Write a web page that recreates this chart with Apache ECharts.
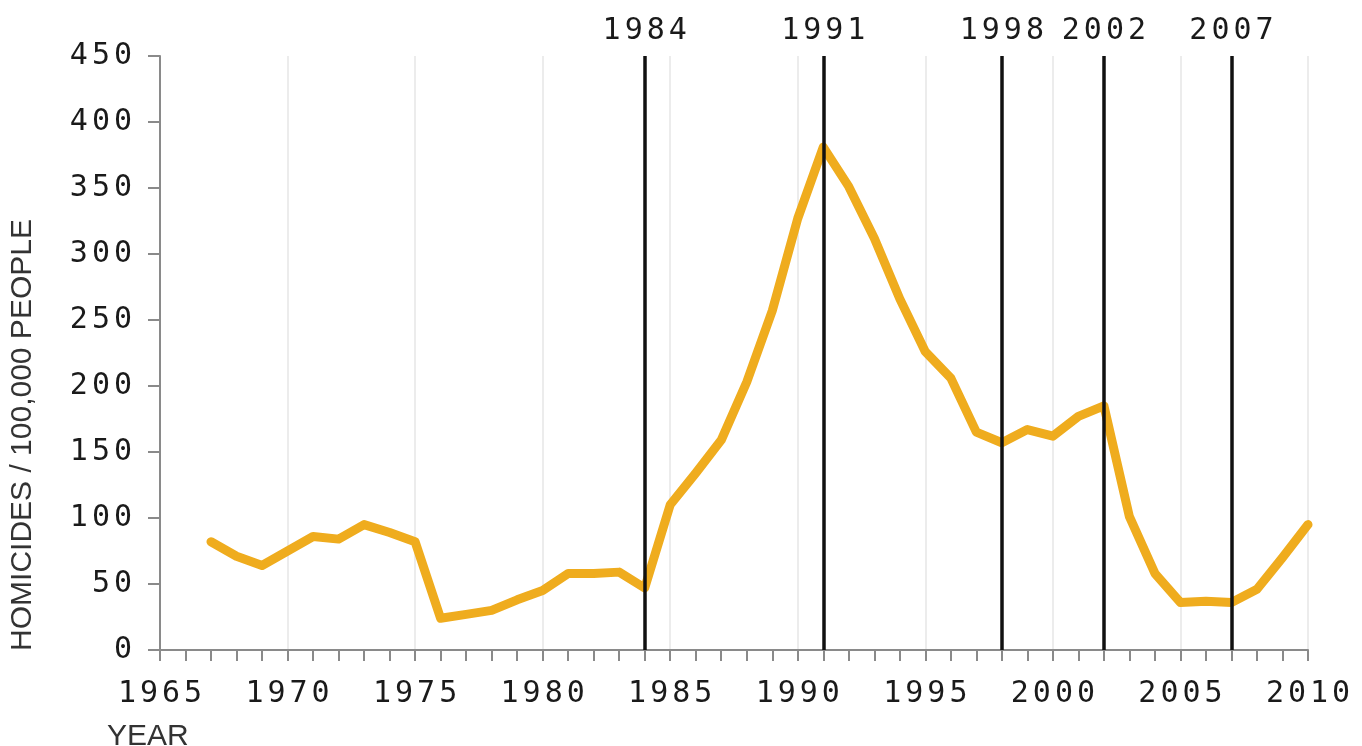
<!DOCTYPE html>
<html>
<head>
<meta charset="utf-8">
<script src="https://cdn.jsdelivr.net/npm/echarts@6/dist/echarts.min.js"></script>
<style>
  html, body { margin: 0; background: #fff; }
  #chart { width: 1362px; height: 746px; }
</style>
</head>
<body>
<div id="chart"></div>
<script>
// homicide rate per year
const years = [1967, 1968, 1969, 1970, 1971, 1972, 1973, 1974, 1975, 1976,
  1977, 1978, 1979, 1980, 1981, 1982, 1983, 1984, 1985, 1986,
  1987, 1988, 1989, 1990, 1991, 1992, 1993, 1994, 1995, 1996,
  1997, 1998, 1999, 2000, 2001, 2002, 2003, 2004, 2005, 2006,
  2007, 2008, 2009, 2010]
const rates = [82, 71, 64, 75, 86, 84, 95, 89, 82, 24,
  27, 30, 38, 45, 58, 58, 59, 47, 110, 134,
  159, 203, 257, 327, 381, 351, 312, 266, 226, 206,
  165, 157, 167, 162, 177, 185, 101, 58, 36, 37,
  36, 46, 70, 95]
// marked years (black verticals)
const eventYears = [1984, 1991, 1998, 2002, 2007]

const monoFont = 'DejaVu Sans Mono'
const rich = {
  d: {
    fontFamily: monoFont,
    fontSize: 30,
    color: '#1a1a1a',
    padding: [0, 2, 0, 2]
  }
}
// spread digits out like the original typewriter labels
function spaced(v) {
  return String(v).split('').map(c => '{d|' + c + '}').join('')
}

const chart = echarts.init(document.getElementById('chart'))
chart.setOption({
  animation: false,
  backgroundColor: '#fff',
  grid: { left: 160, right: 54, top: 56, bottom: 96 },
  xAxis: {
    type: 'value',
    min: 1965,
    max: 2010,
    interval: 5,
    axisLine: { lineStyle: { color: '#8a8a8a', width: 2 } },
    axisTick: { length: 11, lineStyle: { color: '#8a8a8a', width: 2 } },
    minorTick: { show: true, splitNumber: 5, length: 11, lineStyle: { color: '#8a8a8a', width: 2 } },
    splitLine: { show: true, lineStyle: { color: '#e6e6e6', width: 1.5 } },
    axisLabel: { margin: 29, formatter: v => spaced(v), rich: rich }
  },
  yAxis: {
    type: 'value',
    min: 0,
    max: 450,
    interval: 50,
    axisLine: { show: true, lineStyle: { color: '#8a8a8a', width: 2 } },
    axisTick: { show: true, length: 12, lineStyle: { color: '#8a8a8a', width: 2 } },
    splitLine: { show: false },
    axisLabel: { margin: 26, formatter: v => spaced(v), rich: rich }
  },
  series: [
    {
      type: 'line',
      data: years.map((y, i) => [y, rates[i]]),
      showSymbol: false,
      z: 2,
      lineStyle: { color: '#efac1e', width: 9, join: 'round', cap: 'round' }
    },
    {
      type: 'line',
      data: [],
      z: 3,
      markLine: {
        silent: true,
        symbol: 'none',
        lineStyle: { color: '#111', width: 3.5, type: 'solid' },
        label: {
          position: 'end',
          distance: 10,
          formatter: p => spaced(p.value),
          rich: rich
        },
        data: eventYears.map(y => ({ xAxis: y }))
      }
    }
  ],
  graphic: [
    {
      type: 'text',
      x: 23,
      y: 435,
      rotation: Math.PI / 2,
      style: {
        text: 'HOMICIDES / 100,000 PEOPLE',
        fill: '#333',
        font: '30px "Liberation Sans"',
        textAlign: 'center',
        textVerticalAlign: 'middle'
      }
    },
    {
      type: 'text',
      x: 107,
      y: 722,
      style: {
        text: 'YEAR',
        fill: '#333',
        font: '30px "Liberation Sans"',
        textAlign: 'left',
        textVerticalAlign: 'top'
      }
    }
  ]
})
</script>
</body>
</html>
